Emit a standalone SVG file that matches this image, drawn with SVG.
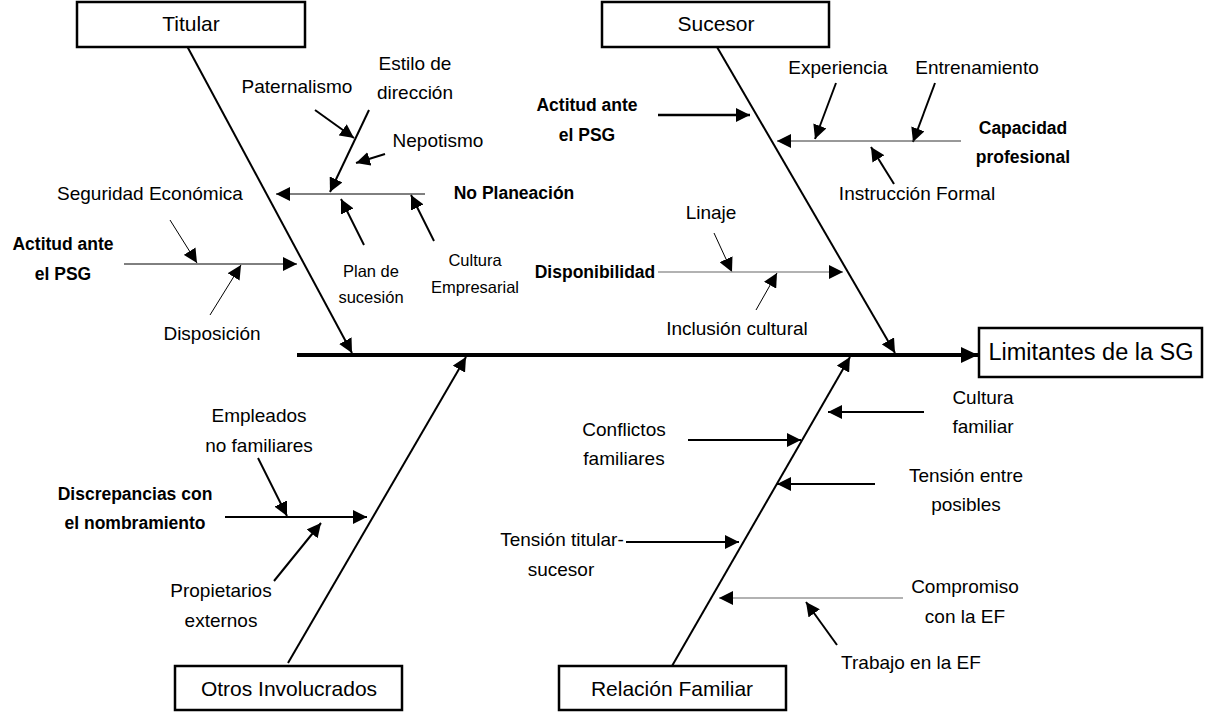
<svg xmlns="http://www.w3.org/2000/svg" width="1205" height="712" viewBox="0 0 1205 712">
<defs>
<style>
text{font-family:"Liberation Sans",Arial,sans-serif;fill:#000;text-anchor:middle;dominant-baseline:central}
.t{font-size:19px}
.s{font-size:16.5px}
.b{font-size:17.5px;font-weight:bold}
.bx{font-size:21px}
.big{font-size:23.5px}
rect{fill:#fff;stroke:#000;stroke-width:2.5}
.c path{fill:none;stroke:#000;marker-end:url(#ah)}
.bone{stroke-width:2}
.w2{stroke-width:2}
.w1{stroke-width:1}
.g{stroke:#999 !important;stroke-width:1.5}
.d{stroke:#333 !important;stroke-width:1}
</style>
<marker id="ah" viewBox="0 0 14 14" refX="14" refY="7" markerWidth="14" markerHeight="14" markerUnits="userSpaceOnUse" orient="auto"><path d="M0,0 L14,7 L0,14 z" fill="#000"/></marker>
<marker id="ahb" viewBox="0 0 17 16" refX="17" refY="8" markerWidth="17" markerHeight="16" markerUnits="userSpaceOnUse" orient="auto"><path d="M0,0 L17,8 L0,16 z" fill="#000"/></marker>
</defs>
<g id="connectors" class="c">
<path class="bone" d="M187.5,47 L352,353"/>
<path class="bone" d="M717,47 L895,353"/>
<path class="bone" d="M288,663 L466,357"/>
<path class="bone" d="M672,666 L850,357"/>
<path d="M297,355 L978,355" style="stroke-width:4;marker-end:url(#ahb)"/>
<path class="w2" d="M369,110 L330,192"/>
<path class="w2" d="M315,110 L354,138"/>
<path class="w2" d="M385,154 L356,163"/>
<path class="w1" d="M425,194 L276,194"/>
<path class="w2" d="M364,245 L341,199"/>
<path class="w2" d="M434,241 L411,195"/>
<path class="w1" d="M124,264 L297,264"/>
<path class="w1" d="M170,220 L197,263"/>
<path class="w1" d="M210,315 L241,265"/>
<path d="M658,115 L750,115" style="stroke-width:2.5"/>
<path class="w2" d="M836,83 L815,139"/>
<path class="w2" d="M935,83 L913,142"/>
<path class="d" d="M961,141 L777,141"/>
<path class="w2" d="M894,184 L871,147"/>
<path class="w1" d="M714,233 L732,272"/>
<path class="g" d="M658,272 L843,272"/>
<path class="w1" d="M756,310 L777,273"/>
<path class="w2" d="M258,458 L287,516"/>
<path class="w2" d="M225,517 L367,517"/>
<path class="w2" d="M274,581 L321,523"/>
<path class="w2" d="M924,412 L828,412"/>
<path class="w2" d="M688,440 L801,440"/>
<path class="w2" d="M875,484 L777,484"/>
<path class="w2" d="M626,542 L739,542"/>
<path class="g" d="M903,598 L719,598"/>
<path class="w2" d="M837,645 L806,602"/>
</g>
<g id="titular"><rect x="77" y="2" width="228" height="45"/><text class="bx" x="191" y="23">Titular</text></g>
<g id="sucesor"><rect x="602" y="2" width="227" height="45"/><text class="bx" x="716" y="23">Sucesor</text></g>
<g id="otros"><rect x="175" y="666" width="227" height="44"/><text class="bx" x="289" y="688">Otros Involucrados</text></g>
<g id="relacion"><rect x="559" y="666" width="227" height="44"/><text class="bx" x="672" y="688">Relación Familiar</text></g>
<g id="limitantes"><rect x="979" y="328" width="223" height="49"/><text class="big" x="1091" y="352">Limitantes de la SG</text></g>
<g id="paternalismo"><text class="t" x="297" y="86">Paternalismo</text></g>
<g id="estilo"><text class="t" x="415" y="63">Estilo de</text><text class="t" x="415" y="92">dirección</text></g>
<g id="nepotismo"><text class="t" x="438" y="140">Nepotismo</text></g>
<g id="noplaneacion"><text class="b" x="514" y="193">No Planeación</text></g>
<g id="seguridad"><text class="t" x="150" y="193">Seguridad Económica</text></g>
<g id="plan"><text class="s" x="371" y="271">Plan de</text><text class="s" x="371" y="297">sucesión</text></g>
<g id="cultemp"><text class="s" x="475" y="260">Cultura</text><text class="s" x="475" y="287">Empresarial</text></g>
<g id="actitud1"><text class="b" x="63" y="244">Actitud ante</text><text class="b" x="63" y="274">el PSG</text></g>
<g id="disposicion"><text class="t" x="212" y="333">Disposición</text></g>
<g id="actitud2"><text class="b" x="587" y="105">Actitud ante</text><text class="b" x="587" y="135">el PSG</text></g>
<g id="experiencia"><text class="t" x="838" y="67">Experiencia</text></g>
<g id="entrenamiento"><text class="t" x="977" y="67">Entrenamiento</text></g>
<g id="capacidad"><text class="b" x="1023" y="128">Capacidad</text><text class="b" x="1023" y="157">profesional</text></g>
<g id="instruccion"><text class="t" x="917" y="193">Instrucción Formal</text></g>
<g id="linaje"><text class="t" x="711" y="212">Linaje</text></g>
<g id="disponibilidad"><text class="b" x="595" y="272">Disponibilidad</text></g>
<g id="inclusion"><text class="t" x="737" y="328">Inclusión cultural</text></g>
<g id="empleados"><text class="t" x="259" y="415">Empleados</text><text class="t" x="259" y="445">no familiares</text></g>
<g id="discrepancias"><text class="b" x="135" y="494">Discrepancias con</text><text class="b" x="135" y="523">el nombramiento</text></g>
<g id="propietarios"><text class="t" x="221" y="590">Propietarios</text><text class="t" x="221" y="620">externos</text></g>
<g id="culturafam"><text class="t" x="983" y="397">Cultura</text><text class="t" x="983" y="426">familiar</text></g>
<g id="conflictos"><text class="t" x="624" y="429">Conflictos</text><text class="t" x="624" y="458">familiares</text></g>
<g id="tensionentre"><text class="t" x="966" y="475">Tensión entre</text><text class="t" x="966" y="504">posibles</text></g>
<g id="tensiontitular"><text class="t" x="562" y="539">Tensión titular-</text><text class="t" x="561" y="569">sucesor</text></g>
<g id="compromiso"><text class="t" x="965" y="586">Compromiso</text><text class="t" x="965" y="616">con la EF</text></g>
<g id="trabajo"><text class="t" x="911" y="662">Trabajo en la EF</text></g>
</svg>
